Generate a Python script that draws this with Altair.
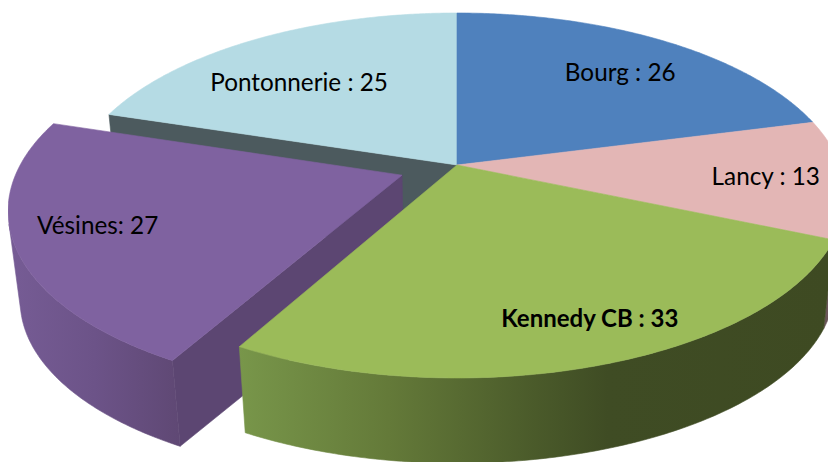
import math
import altair as alt
import pandas as pd

names = ["Bourg", "Lancy", "Kennedy CB", "Vésines", "Pontonnerie"]
values = [26, 13, 33, 27, 25]
labels = ["Bourg : 26", "Lancy : 13", "Kennedy CB : 33", "Vésines: 27", "Pontonnerie : 25"]
label_weight = ["normal", "normal", "bold", "normal", "normal"]
label_angle = [39.4, 94.8, 158.2, 250.2, 318.3]
label_radius = [0.735, 0.80, 0.816, 0.792, 0.672]
top_colors = ["#4F81BD", "#E3B6B5", "#9BBB59", "#7F62A0", "#B5DBE4"]

# camera of the tilted pie
CX, CY, RX, RY, K = 457.0, 165.0, 383.0, 177.4, 0.167
DEPTH, SHRINK = 91.0, 0.973
EXPLODE = {"Vésines": 0.153}


def project(u, v, low=False):
    w = 1 + K * v
    x, y = CX + RX * u / w, CY - RY * v / w
    if low:
        x, y = CX + SHRINK * (x - CX), CY + DEPTH + SHRINK * (y - CY)
    return x, y


total = sum(values)
wedges = {}
acc = 0
for n, val in zip(names, values):
    a0 = acc / total * 360
    acc += val
    a1 = acc / total * 360
    mid = math.radians((a0 + a1) / 2)
    e = EXPLODE.get(n, 0)
    wedges[n] = dict(a0=a0, a1=a1, ox=e * math.sin(mid), oy=e * math.cos(mid))


def arc(n, low=False):
    w = wedges[n]
    steps = 140
    return [
        project(w["ox"] + math.sin(math.radians(w["a0"] + (w["a1"] - w["a0"]) * i / steps)),
                w["oy"] + math.cos(math.radians(w["a0"] + (w["a1"] - w["a0"]) * i / steps)), low)
        for i in range(steps + 1)
    ]


def apex(n, low=False):
    return project(wedges[n]["ox"], wedges[n]["oy"], low)


def top_face(n):
    return [apex(n)] + arc(n) + [apex(n)]


def rim_face(n):
    # keep only the part of the rim that faces the viewer, up to the silhouette
    t, b = arc(n), arc(n, True)
    keep = []
    for i in range(len(t)):
        j = min(i, len(t) - 2)
        tx, ty = t[j + 1][0] - t[j][0], t[j + 1][1] - t[j][1]
        ex, ey = b[i][0] - t[i][0], b[i][1] - t[i][1]
        if tx * ey - ty * ex < 0:
            keep.append(i)
    return [t[i] for i in keep] + [b[i] for i in keep[::-1]] + [t[keep[0]]]


def radial_face(n, first=True):
    t, b = arc(n), arc(n, True)
    i = 0 if first else -1
    return [apex(n), t[i], b[i], apex(n, True), apex(n)]


# the page leaves 820px of width, so the plot area shows x 8..828 of the picture
X = alt.X("x:Q", axis=None, scale=alt.Scale(domain=[8, 828], range=[0, 820], nice=False, zero=False))
Y = alt.Y("y:Q", axis=None, scale=alt.Scale(domain=[8, 462], reverse=True, nice=False, zero=False))


def grad(*stops):
    return alt.Gradient(
        gradient="linear", x1=0, x2=1, y1=0, y2=0,
        stops=[alt.GradientStop(color=c, offset=o) for o, c in stops],
    )


def poly(points, fill):
    df = pd.DataFrame({"x": [p[0] for p in points], "y": [p[1] for p in points],
                       "i": list(range(len(points)))})
    return alt.Chart(df).mark_line(
        fill=fill, stroke=fill, strokeWidth=0.6, clip=True, interpolate="linear"
    ).encode(x=X, y=Y, order="i:Q")


c = dict(zip(names, top_colors))
layers = [
    poly(radial_face("Pontonnerie", True), "#4C5A5E"),
    poly(top_face("Pontonnerie"), c["Pontonnerie"]),
    poly(top_face("Bourg"), c["Bourg"]),
    poly(rim_face("Lancy"), "#6A5558"),
    poly(top_face("Lancy"), c["Lancy"]),
    poly(radial_face("Vésines", True), "#5C4672"),
    poly(rim_face("Vésines"), grad((0, "#765C95"), (0.5, "#6C5388"), (1, "#5F4874"))),
    poly(top_face("Vésines"), c["Vésines"]),
    poly(rim_face("Kennedy CB"), grad((0, "#78964A"), (0.25, "#647A39"), (0.5, "#4A5A2A"),
                                      (0.62, "#3F4C24"), (1, "#3E4A22"))),
    poly(top_face("Kennedy CB"), c["Kennedy CB"]),
]

lx, ly = [], []
for n, ang, r in zip(names, label_angle, label_radius):
    w = wedges[n]
    a = math.radians(ang)
    px, py = project(w["ox"] + r * math.sin(a), w["oy"] + r * math.cos(a))
    lx.append(px)
    ly.append(py)

label_df = pd.DataFrame({"x": lx, "y": ly, "t": labels, "b": label_weight})
for wt, size in [("normal", 24.3), ("bold", 24)]:
    layers.append(
        alt.Chart(label_df[label_df.b == wt]).mark_text(
            font="Lato", fontSize=size, fontWeight=wt, color="#000000", align="center", baseline="middle", dy=1
        ).encode(x=X, y=Y, text="t:N")
    )

chart = alt.layer(*layers).properties(
    width=820, height=454, padding=0, autosize=alt.AutoSizeParams(type="none"), background="white"
).configure_view(stroke=None)

chart.save("out.html", embed_options={"renderer": "svg", "actions": False})
